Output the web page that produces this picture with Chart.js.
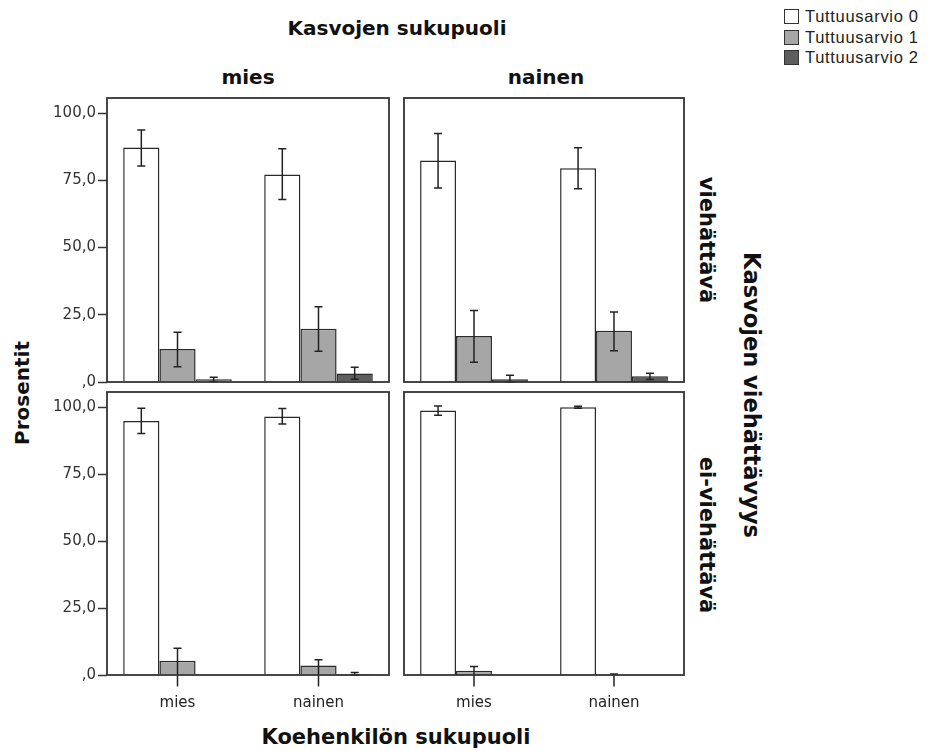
<!DOCTYPE html>
<html>
<head>
<meta charset="utf-8">
<script src="https://cdn.jsdelivr.net/npm/chart.js@4/dist/chart.umd.min.js"></script>
<style>
  body { margin:0; background:#fff; width:929px; height:751px; position:relative; overflow:hidden; font-family:"DejaVu Sans", sans-serif; color:#111; }
  canvas { position:absolute; }
  .t { position:absolute; font-weight:bold; white-space:nowrap; transform:translate(-50%,-50%); }
  .rot { transform:translate(-50%,-50%) rotate(90deg); }
  .rotl { transform:translate(-50%,-50%) rotate(-90deg); }
  .leg { position:absolute; left:784px; font:16.5px "Liberation Sans", Arial, sans-serif; letter-spacing:0.7px; color:#222; line-height:18px; }
  .leg span { display:inline-block; width:13px; height:13px; border:1px solid #333; vertical-align:-2px; margin-right:6px; }
</style>
</head>
<body>
<div class="t" style="left:397px;top:28px;font-size:20px">Kasvojen sukupuoli</div>
<div class="t" style="left:248px;top:77px;font-size:20px">mies</div>
<div class="t" style="left:546px;top:77px;font-size:20px">nainen</div>
<div class="t rotl" style="left:22px;top:393px;font-size:20px">Prosentit</div>
<div class="t" style="left:396px;top:737px;font-size:21px">Koehenkilön sukupuoli</div>
<div class="t rot" style="left:707px;top:240px;font-size:21px">viehättävä</div>
<div class="t rot" style="left:707px;top:535px;font-size:21px">ei-viehättävä</div>
<div class="t rot" style="left:752px;top:395px;font-size:22.5px">Kasvojen viehättävyys</div>
<div id="legend"></div>

<canvas id="pA"></canvas>
<canvas id="pB"></canvas>
<canvas id="pC"></canvas>
<canvas id="pD"></canvas>

<script>
// koehenkilön sukupuoli (x categories)
const categories = ['mies', 'nainen'];
const seriesNames = ['Tuttuusarvio 0', 'Tuttuusarvio 1', 'Tuttuusarvio 2'];
const yTicks = [0, 25, 50, 75, 100];

// viehättävä / kasvot mies
const a_t0 = [87.2, 77.2], a_t0_lo = [80.3, 67.9], a_t0_hi = [93.7, 86.7];
const a_t1 = [12.3, 19.8], a_t1_lo = [5.7, 11.4], a_t1_hi = [18.5, 28.0];
const a_t2 = [1.0, 3.2],   a_t2_lo = [0.2, 1.0],  a_t2_hi = [1.8, 5.5];
// viehättävä / kasvot nainen
const b_t0 = [82.4, 79.5], b_t0_lo = [72.1, 71.9], b_t0_hi = [92.4, 87.1];
const b_t1 = [17.1, 19.1], b_t1_lo = [7.3, 11.6],  b_t1_hi = [26.6, 26.0];
const b_t2 = [1.0, 2.1],   b_t2_lo = [0.0, 0.9],   b_t2_hi = [2.5, 3.3];
// ei-viehättävä / kasvot mies
const c_t0 = [94.8, 96.5], c_t0_lo = [90.1, 93.7], c_t0_hi = [99.5, 99.4];
const c_t1 = [5.3, 3.5],   c_t1_lo = [-4.3, -4.3], c_t1_hi = [10.0, 5.7];
const c_t2 = [0.0, 0.4],   c_t2_lo = [0.0, 0.0],   c_t2_hi = [0.0, 0.9];
// ei-viehättävä / kasvot nainen
const d_t0 = [98.7, 99.9], d_t0_lo = [96.9, 99.5], d_t0_hi = [100.4, 100.3];
const d_t1 = [1.6, 0.0],   d_t1_lo = [-4.3, -4.3], d_t1_hi = [3.2, 0.4];
const d_t2 = [0.0, 0.0],   d_t2_lo = [0.0, 0.0],   d_t2_hi = [0.0, 0.0];

const fills = ['#ffffff', '#a6a6a6', '#5e5e5e'];
const Y_MAX = 105.6;
const PAD = 12; // room for the half-height of the outer tick labels

// legend
document.getElementById('legend').innerHTML = seriesNames.map((n, i) =>
  `<div class="leg" style="top:${7 + i * 20.5}px"><span style="background:${fills[i]}"></span>${n}</div>`).join('');

// error bars + frame
const extras = {
  id: 'extras',
  afterDatasetsDraw(chart) {
    const ctx = chart.ctx, y = chart.scales.y, a = chart.chartArea;
    ctx.save();
    ctx.strokeStyle = '#222'; ctx.lineWidth = 1.5;
    chart.data.datasets.forEach((ds, i) => {
      chart.getDatasetMeta(i).data.forEach((bar, j) => {
        const lo = ds.lo[j], hi = ds.hi[j];
        if (hi - lo < 0.01) return;
        const y1 = y.getPixelForValue(hi), y2 = y.getPixelForValue(lo);
        ctx.beginPath();
        ctx.moveTo(bar.x, y1); ctx.lineTo(bar.x, y2);
        ctx.moveTo(bar.x - 4, y1); ctx.lineTo(bar.x + 4, y1);
        if (lo >= 0) { ctx.moveTo(bar.x - 4, y2); ctx.lineTo(bar.x + 4, y2); }
        ctx.stroke();
      });
    });
    ctx.strokeStyle = '#333'; ctx.lineWidth = 1.8;
    ctx.strokeRect(a.left, a.top, a.right - a.left, a.bottom - a.top);
    ctx.restore();
  }
};

function panel(id, box, sets, showY, showX) {
  const cv = document.getElementById(id);
  const yw = showY ? 60 : 0, xh = showX ? 40 : 0;
  const padL = showY ? 0 : 2, padB = showX ? 0 : PAD;
  const w = padL + yw + (box.r - box.l) + 2;
  const h = PAD + (box.b - box.t) + xh + padB;
  cv.width = w; cv.height = h;
  cv.style.left = (box.l - yw - padL) + 'px';
  cv.style.top = (box.t - PAD) + 'px';
  cv.style.width = w + 'px'; cv.style.height = h + 'px';
  new Chart(cv, {
    type: 'bar',
    data: {
      labels: categories,
      datasets: sets.map((s, i) => ({
        label: seriesNames[i], data: s[0], lo: s[1], hi: s[2],
        backgroundColor: fills[i], borderColor: '#2a2a2a', borderWidth: 1.5,
        categoryPercentage: 0.77, barPercentage: 1.0
      }))
    },
    options: {
      responsive: false, animation: false,
      layout: { padding: { top: PAD, right: 2, left: padL, bottom: padB } },
      plugins: { legend: { display: false }, tooltip: { enabled: false } },
      scales: {
        x: {
          display: showX,
          grid: { display: false, drawTicks: false }, border: { display: false },
          ticks: { padding: 19, color: '#222', font: { family: 'DejaVu Sans', size: 15 } },
          afterFit(s) { s.height = xh; }
        },
        y: {
          display: showY, min: 0, max: Y_MAX,
          afterBuildTicks(s) { s.ticks = yTicks.map(v => ({ value: v })); },
          grid: { drawOnChartArea: false, tickLength: 9, color: '#333', tickWidth: 1.5 },
          border: { display: false },
          ticks: {
            padding: 2, color: '#333', font: { family: 'DejaVu Sans', size: 15 },
            callback: v => v === 0 ? ',0' : v.toFixed(1).replace('.', ',')
          },
          afterFit(s) { s.width = yw; }
        }
      }
    },
    plugins: [extras]
  });
}

panel('pA', { l: 107, r: 389, t: 98, b: 382 },
  [[a_t0, a_t0_lo, a_t0_hi], [a_t1, a_t1_lo, a_t1_hi], [a_t2, a_t2_lo, a_t2_hi]], true, false);
panel('pB', { l: 404, r: 684, t: 98, b: 382 },
  [[b_t0, b_t0_lo, b_t0_hi], [b_t1, b_t1_lo, b_t1_hi], [b_t2, b_t2_lo, b_t2_hi]], false, false);
panel('pC', { l: 107, r: 389, t: 392, b: 675 },
  [[c_t0, c_t0_lo, c_t0_hi], [c_t1, c_t1_lo, c_t1_hi], [c_t2, c_t2_lo, c_t2_hi]], true, true);
panel('pD', { l: 404, r: 684, t: 392, b: 675 },
  [[d_t0, d_t0_lo, d_t0_hi], [d_t1, d_t1_lo, d_t1_hi], [d_t2, d_t2_lo, d_t2_hi]], false, true);
</script>
</body>
</html>
